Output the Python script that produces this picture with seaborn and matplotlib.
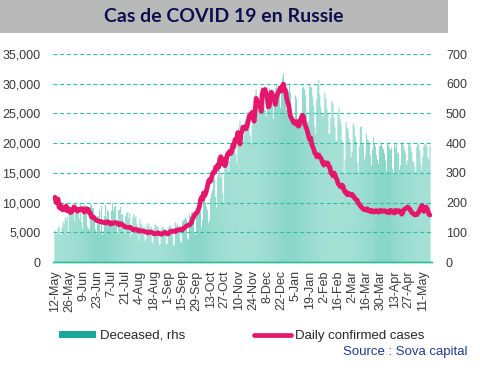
import numpy as np
import seaborn as sns
import matplotlib.pyplot as plt
from matplotlib.patches import Patch, Rectangle
from matplotlib.lines import Line2D
from matplotlib.ticker import StrMethodFormatter

# Daily confirmed cases (left axis), 12-May-2020 .. 18-May-2021
cases_may20 = [10900, 10030, 9970, 10600, 9200, 9710, 8930, 9260, 8760, 8850, 8890, 9430, 8600, 8950, 8920, 8340, 8370, 8570, 8950, 9270]
cases_jun20 = [9040, 8860, 8540, 8830, 8730, 8860, 8980, 8990, 8600, 8400, 8780, 8990, 8710, 8840, 8250, 8250, 7600, 7500, 7550, 7400, 7150, 7000, 6950, 6900, 6850, 6750, 6800, 6700, 6650, 6600]
cases_jul20 = [6560, 6760, 6630, 6740, 6610, 6370, 6560, 6560, 6510, 6640, 6610, 6620, 6540, 6250, 6420, 6430, 6410, 6230, 6110, 5940, 5840, 5860, 5850, 5810, 5870, 5770, 5640, 5400, 5480, 5510, 5480]
cases_aug20 = [5460, 5430, 5160, 5200, 5270, 5240, 5210, 5190, 5120, 5100, 4950, 4890, 5060, 5060, 5070, 4970, 4840, 4720, 4750, 4770, 4870, 4920, 4850, 4700, 4680, 4710, 4830, 4940, 4980, 4900, 4730]
cases_sep20 = [4730, 4950, 5110, 5130, 5210, 5200, 5190, 5100, 5360, 5310, 5410, 5450, 5490, 5510, 5410, 5670, 5760, 5900, 6070, 6150, 6200, 6220, 6430, 6600, 7210, 7520, 7870, 8140, 8230, 8480]
cases_oct20 = [8950, 9410, 10500, 10890, 10500, 11620, 11120, 11490, 12130, 12850, 13630, 13870, 13590, 14230, 14930, 15150, 15100, 15980, 15700, 16320, 15970, 17340, 17720, 16520, 17350, 16550, 16200, 16470, 17720, 18280, 18140]
cases_nov20 = [18670, 18260, 18650, 19770, 19400, 20580, 20500, 20980, 21800, 20980, 19850, 21610, 21980, 22700, 22570, 22780, 22410, 22900, 23610, 24320, 24820, 24580, 25170, 24330, 23680, 25490, 27540, 27100, 26340, 26680]
cases_dec20 = [26400, 25350, 28150, 28940, 28780, 29040, 28140, 27600, 26100, 26190, 27930, 28590, 28210, 27330, 27260, 26510, 27650, 28210, 28550, 28950, 29350, 28780, 29500, 29940, 29020, 28920, 27760, 27000, 26510, 25500, 24500]
cases_jan21 = [24200, 23900, 23500, 23350, 23250, 23650, 23050, 22850, 23300, 24000, 24400, 24700, 24300, 23200, 22850, 22400, 21800, 21100, 20600, 20900, 19800, 19400, 18950, 18340, 18200, 17700, 17740, 18030, 17650, 17500, 17100]
cases_feb21 = [16600, 16300, 16700, 16640, 16690, 16630, 16050, 15920, 14970, 14800, 14490, 15000, 14680, 14180, 13830, 13230, 12990, 12750, 12620, 12950, 12740, 12050, 11750, 11820, 11330, 11530, 11530, 11270]
cases_mar21 = [11270, 11390, 11060, 10950, 10600, 10500, 10400, 9930, 9720, 9450, 9250, 9100, 8900, 8820, 8750, 8780, 8960, 8620, 8650, 8500, 8700, 8550, 8400, 8600, 8450, 8650, 8500, 8400, 8480, 8720, 8600]
cases_apr21 = [8500, 8600, 8650, 8550, 8400, 8350, 8580, 8300, 8700, 8450, 8600, 8300, 8250, 8700, 8500, 8480, 8650, 8580, 8400, 8050, 8300, 8800, 8900, 9000, 9100, 9250, 9100, 8900, 8600, 8300]
cases_may21 = [8200, 8050, 7900, 8000, 7950, 8250, 8400, 8800, 9200, 9500, 9300, 8500, 8800, 9250, 9000, 8600, 8000, 7900]

# Deceased (right axis)
deaths_may20 = [107, 96, 93, 113, 119, 94, 91, 115, 135, 127, 150, 139, 153, 92, 174, 161, 174, 196, 181, 138]
deaths_jun20 = [162, 182, 178, 169, 144, 197, 134, 112, 171, 194, 174, 181, 119, 113, 109, 193, 194, 182, 181, 161, 109, 95, 153, 154, 176, 104, 188, 92, 104, 154]
deaths_jul20 = [192, 147, 176, 168, 134, 135, 173, 198, 174, 186, 188, 130, 95, 175, 175, 186, 158, 161, 119, 95, 154, 165, 169, 146, 165, 85, 95, 147, 161, 150, 154]
deaths_aug20 = [129, 95, 70, 144, 129, 124, 114, 119, 70, 77, 130, 119, 129, 110, 119, 68, 61, 114, 129, 121, 122, 116, 56, 60, 110, 119, 117, 112, 111, 60, 62]
deaths_sep20 = [114, 123, 119, 117, 110, 57, 56, 134, 122, 129, 112, 122, 70, 65, 137, 140, 144, 150, 142, 80, 75, 160, 154, 165, 169, 160, 100, 92, 177, 160]
deaths_oct20 = [186, 169, 186, 117, 141, 201, 239, 202, 186, 174, 131, 141, 215, 232, 244, 286, 279, 219, 183, 286, 317, 309, 283, 295, 229, 201, 320, 366, 356, 334, 303]
deaths_nov20 = [340, 356, 389, 409, 386, 398, 363, 333, 398, 452, 476, 459, 431, 407, 425, 476, 482, 503, 494, 474, 425, 401, 461, 496, 513, 564, 580, 546, 531, 506]
deaths_dec20 = [569, 589, 554, 517, 567, 512, 491, 560, 573, 587, 563, 562, 541, 481, 567, 584, 597, 585, 592, 565, 518, 593, 621, 635, 598, 582, 512, 532, 575, 600, 570]
deaths_jan21 = [492, 480, 467, 482, 561, 550, 467, 465, 481, 466, 470, 587, 590, 581, 561, 508, 470, 475, 594, 588, 588, 557, 526, 456, 430, 547, 597, 612, 564, 523, 502]
deaths_feb21 = [486, 498, 570, 552, 517, 499, 432, 432, 485, 542, 531, 486, 454, 409, 407, 504, 519, 481, 465, 410, 396, 300, 345, 471, 453, 448, 416, 398]
deaths_mar21 = [353, 371, 466, 454, 426, 406, 335, 304, 388, 455, 456, 400, 393, 344, 359, 432, 413, 409, 398, 360, 325, 378, 420, 400, 389, 360, 345, 330, 389, 392, 400]
deaths_apr21 = [388, 379, 365, 341, 307, 401, 395, 384, 377, 385, 312, 301, 397, 384, 399, 369, 365, 311, 327, 399, 403, 391, 378, 366, 327, 342, 396, 397, 390, 371]
deaths_may21 = [339, 337, 319, 297, 387, 398, 395, 375, 333, 310, 355, 390, 396, 399, 388, 351, 342, 392]

tick_labels = ['12-May', '26-May', '9-Jun', '23-Jun', '7-Jul', '21-Jul', '4-Aug', '18-Aug',
               '1-Sep', '15-Sep', '29-Sep', '13-Oct', '27-Oct', '10-Nov', '24-Nov', '8-Dec',
               '22-Dec', '5-Jan', '19-Jan', '2-Feb', '16-Feb', '2-Mar', '16-Mar', '30-Mar',
               '13-Apr', '27-Apr', '11-May']

cases = (cases_may20 + cases_jun20 + cases_jul20 + cases_aug20 + cases_sep20 + cases_oct20
         + cases_nov20 + cases_dec20 + cases_jan21 + cases_feb21 + cases_mar21 + cases_apr21 + cases_may21)
deaths = (deaths_may20 + deaths_jun20 + deaths_jul20 + deaths_aug20 + deaths_sep20 + deaths_oct20
          + deaths_nov20 + deaths_dec20 + deaths_jan21 + deaths_feb21 + deaths_mar21 + deaths_apr21 + deaths_may21)
days = np.arange(len(cases))

teal = '#2bbf9f'
magenta = '#e5166b'
tick_col = '#3a3a3a'

sns.set_style('white')
plt.rcParams['font.family'] = ['Liberation Sans', 'DejaVu Sans']

fig = plt.figure(figsize=(4.8, 3.68), dpi=100)

# header band
fig.patches.append(Rectangle((0, 0.91), 0.933, 0.09, transform=fig.transFigure,
                             facecolor='#b9b9b9', edgecolor='none', zorder=0))
fig.text(0.467, 0.955, 'Cas de COVID 19 en Russie', ha='center', va='center',
         fontsize=14, fontweight='bold', family=['Lato', 'DejaVu Sans'], color='#0e0e4e')

ax = fig.add_axes([0.1104, 0.288, 0.7896, 0.5652])
sns.barplot(x=days, y=deaths, ax=ax, color='#7fd3c4', saturation=1, width=0.9,
            linewidth=0, errorbar=None)
# no pixel snapping, otherwise thin bars vanish in bands
for p in ax.patches:
    p.set_snap(False)
ax.set_ylim(0, 700)
ax.set_yticks(range(0, 701, 100))

ax2 = ax.twinx()
# twinx puts the host's ticks back on the left, so move them after it
ax.yaxis.tick_right()
sns.lineplot(x=days, y=cases, ax=ax2, color=magenta, linewidth=3.4)
ax2.set_ylim(0, 35000)
ax2.yaxis.tick_left()
ax2.set_yticks(range(0, 35001, 5000))
ax2.yaxis.set_major_formatter(StrMethodFormatter('{x:,.0f}'))
ax2.grid(axis='y', color=teal, linestyle=(0, (3.5, 2.5)), linewidth=0.8)
ax2.set_axisbelow(True)

ax.set_xlim(-2, 373)
ax.set_xticks(np.arange(0, 365, 14))
ax.set_xticklabels(tick_labels, rotation=90)
ax.set_xlabel('')
ax.set_ylabel('')
ax2.set_ylabel('')

for a in (ax, ax2):
    for s in ['top', 'left', 'right']:
        a.spines[s].set_visible(False)
    a.spines['bottom'].set_color(teal)
    a.spines['bottom'].set_linewidth(1)
ax.tick_params(axis='x', colors=teal, direction='out', length=4, width=0.8,
               labelcolor=tick_col, labelsize=9, pad=2)
ax.tick_params(axis='y', length=0, labelcolor=tick_col, labelsize=9, pad=10,
               left=False, labelleft=False, right=False, labelright=True)
ax2.tick_params(axis='y', length=0, labelcolor=tick_col, labelsize=9, pad=9,
                right=False, labelright=False, left=False, labelleft=True)

handles = [Patch(facecolor='#1aa797', edgecolor='none', label='Deceased, rhs'),
           Line2D([], [], color=magenta, linewidth=3.4, label='Daily confirmed cases')]
fig.legend(handles=handles, loc='center', bbox_to_anchor=(0.503, 0.087), ncol=2,
           frameon=False, fontsize=9.5, handlelength=2.8, handleheight=0.5,
           columnspacing=5.2, handletextpad=0.3)

fig.text(0.973, 0.043, 'Source : Sova capital', ha='right', va='center',
         color='#1f3b8f', fontsize=9.5)

fig.savefig('out.png', dpi=100)
